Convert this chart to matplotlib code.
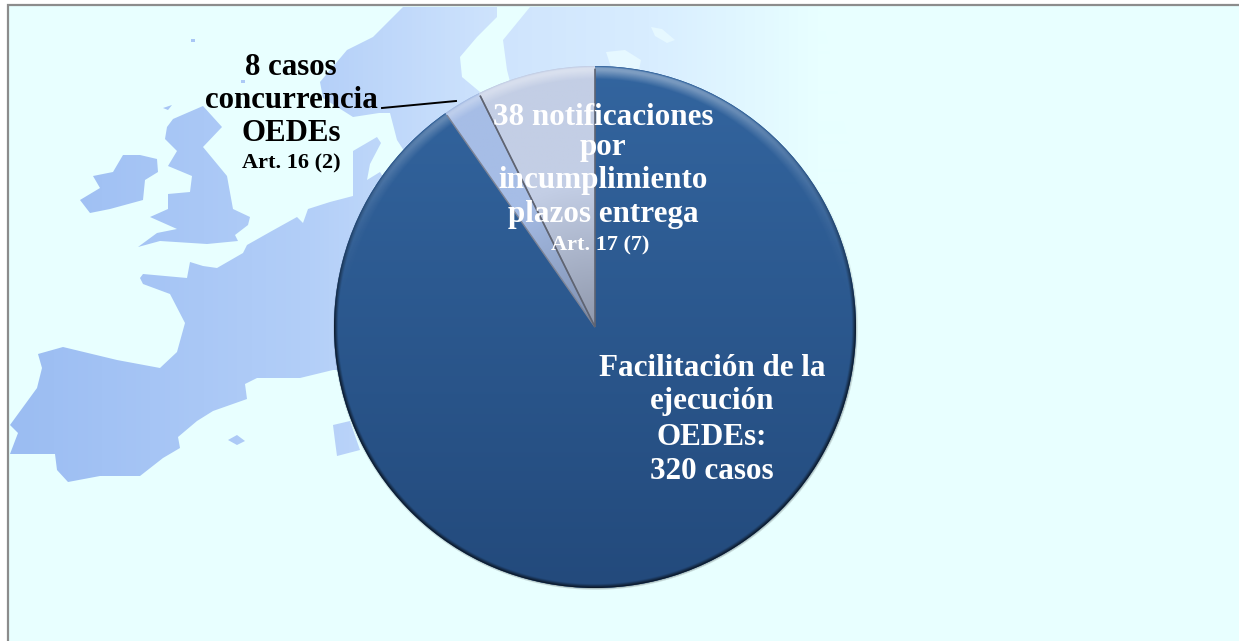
import numpy as np
import matplotlib
matplotlib.use("Agg")
import matplotlib.pyplot as plt
from matplotlib.colors import LinearSegmentedColormap
from matplotlib.patches import Circle, PathPatch
from matplotlib.path import Path

# ---- data ----
categories = ["Facilitación", "Concurrencia", "Notificaciones"]
slice_values = [320, 8.4, 26]          # sizes as drawn in the picture
label_main = ["Facilitación de la", "ejecución", "OEDEs:", "320 casos"]
label_concurrence = ["8 casos", "concurrencia", "OEDEs"]
note_concurrence = "Art. 16 (2)"
label_notif = ["38 notificaciones", "por", "incumplimiento", "plazos entrega"]
note_notif = "Art. 17 (7)"

# background map outline, traced in image pixels
land_continent = [(140,278),(143,274),(165,276),(187,278),(190,262),(203,266),(217,268),(243,253),(247,245),
    (270,232),(297,217),(303,223),(308,209),(330,202),(353,196),(372,188),(395,178),(440,300),(440,370),
    (333,370),(300,378),(257,378),(245,384),(247,399),(213,411),(197,421),(178,437),(180,448),(163,458),
    (140,476),(100,476),(68,482),(57,470),(55,454),(10,454),(18,433),(10,425),(37,388),(42,368),(38,354),
    (63,347),(117,360),(160,368),(177,352),(185,323),(170,294),(143,284)]
land_britain = [(173,119),(203,106),(222,127),(203,147),(227,176),(233,209),(250,217),(248,225),(235,235),
    (238,241),(207,244),(160,241),(138,247),(157,233),(177,229),(150,217),(168,209),(168,194),(190,192),
    (192,176),(168,166),(177,151),(165,139),(167,127)]
land_ireland = [(123,155),(140,155),(157,159),(158,172),(145,180),(143,200),(110,209),(90,213),(80,200),
    (100,188),(93,176),(113,172)]
land_mallorca = [(228,440),(237,435),(245,441),(237,445)]
land_corsica = [(333,425),(350,421),(360,450),(337,456),(335,441)]
land_hebrides = [(163,108),(172,105),(168,110)]
land_islet_a = [(191,39),(195,39),(195,42),(191,42)]
land_islet_b = [(241,80),(245,80),(245,83),(241,83)]
land_scandinavia = [(403,7),(383,27),(373,37),(347,50),(320,82),(323,98),(353,117),(379,113),(390,113),
    (397,140),(410,160),(470,110),(480,92),(462,77),(460,57),(477,37),(497,17),(497,7)]
land_denmark = [(353,151),(377,137),(381,143),(370,164),(367,180),(380,172),(385,180),(372,188),(353,196)]
land_east = [(530,7),(503,40),(507,70),(520,120),(600,300),(820,300),(860,200),(820,7)]
sea_gulf_a = [(651,27),(662,29),(675,40),(667,43),(655,36)]
sea_gulf_b = [(606,52),(625,50),(641,60),(639,70),(612,70)]

W, H = 1239, 641
BG = "#e8ffff"
fig = plt.figure(figsize=(W / 100, H / 100), dpi=100, facecolor="white")

# ---- background axes in pixel coordinates ----
ax = fig.add_axes([0, 0, 1, 1])
ax.set_xlim(0, W)
ax.set_ylim(H, 0)
ax.axis("off")
ax.add_patch(plt.Rectangle((8, 5), W, H, fc=BG, ec="#8c8c8c", lw=1.6, zorder=1))

outlines = [land_continent, land_britain, land_ireland, land_mallorca, land_corsica, land_hebrides,
            land_islet_a, land_islet_b, land_scandinavia, land_denmark, land_east]
verts, codes = [], []
for p in outlines:
    verts += list(p) + [p[0]]
    codes += [Path.MOVETO] + [Path.LINETO] * (len(p) - 1) + [Path.CLOSEPOLY]
land_path = Path(verts, codes)
xs = [0, 300 / W, 500 / W, 650 / W, 820 / W, 1]
cols = ["#9abcf2", "#b2cef8", "#cfe4fd", "#d8edff", BG, BG]
cmap_land = LinearSegmentedColormap.from_list("land", list(zip(xs, cols)))
im = ax.imshow(np.linspace(0, 1, 1239)[None, :], extent=(0, W, H, 0), cmap=cmap_land, vmin=0, vmax=1,
               aspect="auto", zorder=2, interpolation="bilinear")
clip = PathPatch(land_path, transform=ax.transData, fc="none", ec="none")
ax.add_patch(clip)
im.set_clip_path(clip)
for sea in (sea_gulf_a, sea_gulf_b):
    ax.add_patch(plt.Polygon(sea, fc="#e6f8ff", ec="none", zorder=3))

# soft shadow around the pie
yy, xx = np.mgrid[50:606, 318:872]
rr = np.hypot(xx - 595, yy - 327) / 261
shadow = np.zeros(rr.shape + (4,))
shadow[..., 3] = np.clip((1.007 - rr) / 0.007, 0, 1) * 0.25 * np.clip((yy - 150) / 250, 0, 1)
ax.imshow(shadow, extent=(318, 872, 606, 50), aspect="auto", zorder=4)
ax.set_xlim(0, W)
ax.set_ylim(H, 0)

# ---- pie ----
px, py, pr = 595, 327, 261
pax = fig.add_axes([(px - pr) / W, 1 - (py + pr) / H, 2 * pr / W, 2 * pr / H])
wedges, _ = pax.pie(slice_values, startangle=90, counterclock=False, radius=1,
                    colors=["#2c5a93", "#a9c0e6", "#c2cfe6"],
                    wedgeprops=dict(linewidth=0))
pax.set_aspect("auto")

tops = ["#33659f", "#a6bde6", "#c3cee5"]
bottoms = ["#234a7c", "#7f90b0", "#8f98ac"]
for w, t, b in zip(wedges, tops, bottoms):
    cm = LinearSegmentedColormap.from_list("g", [t, b])
    if t == tops[0]:
        grad = np.linspace(0, 1, 500)[:, None]
        g = pax.imshow(grad, extent=(-1, 1, -1, 1), origin="upper", cmap=cm, aspect="auto", zorder=2)
    else:
        yg, xg = np.mgrid[1:-1:400j, -1:1:400j]
        radial = np.clip((0.55 - np.hypot(xg, yg)) / 0.55, 0, 1)
        g = pax.imshow(radial, extent=(-1, 1, -1, 1), origin="upper", cmap=cm, aspect="auto", zorder=2)
    g.set_clip_path(w)

# bevel: rim highlight on top, dark rim at the outer edge
yg, xg = np.mgrid[1:-1:1044j, -1:1:1044j]
r = np.hypot(xg, yg)
up = np.clip(yg / np.maximum(r, 1e-6), 0, 1)
overlay = np.zeros(r.shape + (4,))
band = np.clip((r - 0.95) / 0.035, 0, 1) * np.clip((1.0 - r) / 0.006, 0, 1)
overlay[..., :3] = 1.0
overlay[..., 3] = band * up ** 2 * 0.38
dark = np.clip((r - 0.985) / 0.015, 0, 1) * (1 - up) ** 2
dark_rgba = np.zeros_like(overlay)
dark_rgba[..., 3] = dark * 0.7
ov = pax.imshow(overlay, extent=(-1, 1, -1, 1), origin="upper", aspect="auto", zorder=3)
ov2 = pax.imshow(dark_rgba, extent=(-1, 1, -1, 1), origin="upper", aspect="auto", zorder=3)
for o in (ov, ov2):
    o.set_clip_path(Circle((0, 0), 1, transform=pax.transData))

# slice edges
for w, ec, lw in zip(wedges[1:], ["#7d8496", "#5f6472"], [1.0, 1.2]):
    e = PathPatch(w.get_path(), transform=w.get_transform(), fc="none", ec=ec, lw=lw, zorder=4)
    pax.add_patch(e)
    e.set_clip_path(Circle((0, 0), 0.99, transform=pax.transData))
pax.set_xlim(-1, 1)
pax.set_ylim(-1, 1)
pax.axis("off")

# ---- text ----
tax = fig.add_axes([0, 0, 1, 1])
tax.set_xlim(0, W)
tax.set_ylim(H, 0)
tax.axis("off")
tax.patch.set_alpha(0)
FONT = "Liberation Serif"
def put(x, y, s, color, size):
    tax.text(x, y, s, color=color, fontsize=size, family=FONT, weight="bold", ha="center", va="baseline")

for y, s in zip([75, 108, 141], label_concurrence):
    put(291, y, s, "black", 22.2)
put(291, 168, note_concurrence, "black", 16)
for y, s in zip([125, 155, 188, 222], label_notif):
    put(603, y, s, "white", 22.4)
put(600, 250, note_notif, "white", 16)
for y, s in zip([376, 409, 445, 479], label_main):
    put(712, y, s, "white", 22.4)
tax.plot([382, 456], [108, 101], color="black", lw=1.4)

fig.savefig("out.png", dpi=100, facecolor="white")
